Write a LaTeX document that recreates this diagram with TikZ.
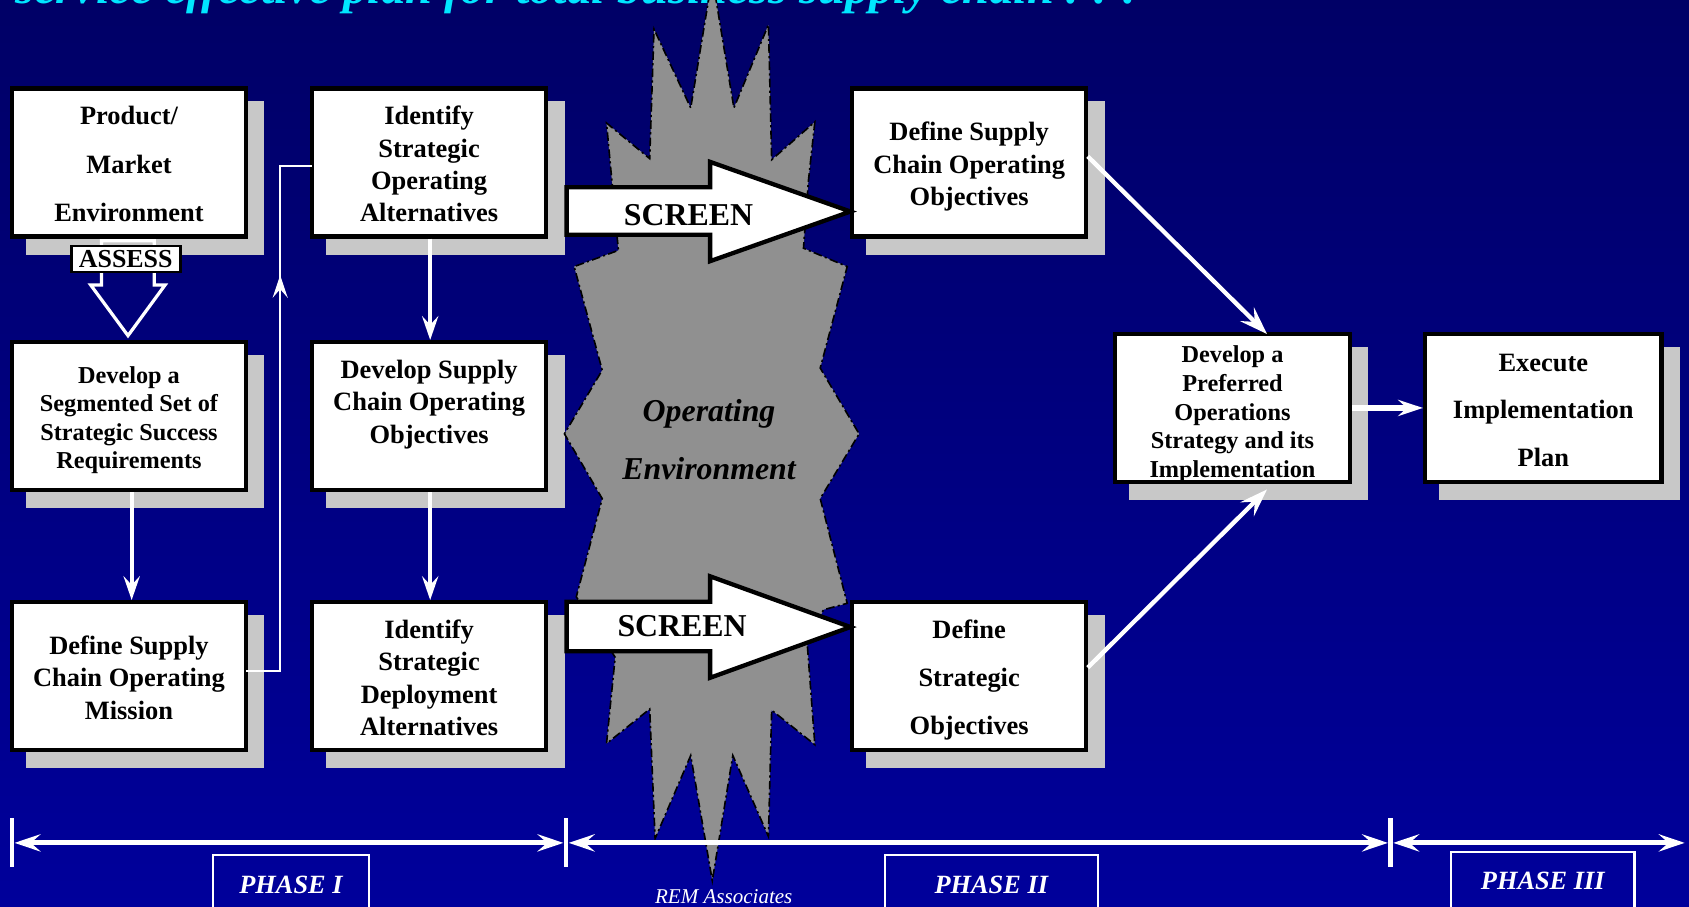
\documentclass[tikz,border=0pt]{standalone}
\usepackage{fontspec}
\setmainfont{Liberation Serif}
\usetikzlibrary{arrows.meta,decorations.markings}
\pgfdeclarelayer{bg}
\pgfdeclarelayer{shade}
\pgfsetlayers{bg,shade,main}
\definecolor{navytop}{RGB}{0,0,102}
\definecolor{navybot}{RGB}{0,0,155}
\definecolor{shadowgray}{RGB}{200,200,200}
\definecolor{burstgray}{RGB}{144,144,144}
\definecolor{titlecyan}{RGB}{0,230,255}
\newcommand{\mytb}[1]{\raisebox{-4pt}[\height][\depth]{\begin{tabular}{@{}c@{}}#1\end{tabular}}}
\newcommand{\plaintb}[1]{\begin{tabular}{@{}c@{}}#1\end{tabular}}
\newcommand{\fbig}{\fontsize{24.5}{30}\selectfont\bfseries}
\newcommand{\fsmall}{\fontsize{22.5}{26.5}\selectfont\bfseries}
\tikzset{
  box/.style={draw=black, line width=4pt, fill=white, minimum width=217pt,
    minimum height=137pt, inner sep=0pt, outer sep=0pt, font=\fbig},
  flow/.style={white, line width=3.5pt, shorten <=2pt, shorten >=2pt,
    -{Stealth[length=22pt,width=15pt,inset=8pt]}},
  diag/.style={white, line width=4pt, shorten <=2pt,
    -{Stealth[length=26pt,width=18pt,inset=10pt]}},
  screenarrow/.style={fill=white, draw=black, line width=4pt, line join=miter},
  screentext/.style={font=\fontsize{29.5}{32}\selectfont\bfseries},
  phasebox/.style={draw=white, line width=2pt, text=white, inner sep=0pt,
    font=\fontsize{24.4}{28}\selectfont\bfseries\itshape},
  phasearrow/.style={white, line width=4.5pt, shorten <=2.5pt, shorten >=2.5pt,
    {Stealth[length=24pt,width=16pt,inset=9pt]}-{Stealth[length=24pt,width=16pt,inset=9pt]}},
  tick/.style={white, line width=4pt}
}
\begin{document}
\begin{tikzpicture}[x=1pt,y=-1pt]
\useasboundingbox (0,0) rectangle (1565,839.5);
\begin{pgfonlayer}{bg}
  \shade[top color=navytop, bottom color=navybot] (0,0) rectangle (1565,839.5);
\end{pgfonlayer}

% title (cut off at top, as in the reference)
\node[anchor=base west, text=titlecyan, inner sep=0pt,
  font=\fontsize{45}{50}\selectfont\bfseries\itshape] (title) at (14,3.7)
  {service effective plan for total business supply chain . . .};

% operating environment burst
\draw[fill=burstgray, draw=black, line width=1.5pt, line join=miter,
  dash pattern=on 8pt off 3pt on 2pt off 3pt]
  (660,-21) -- (680,100) -- (712,23) -- (715,148) -- (755,113) -- (749,168)
  -- (744.5,230) -- (785,247) -- (760,341) -- (796,402) -- (760,462)
  -- (785,559) -- (763,565) -- (748,597) -- (755,690) -- (715,658)
  -- (712,775) -- (679,700) -- (660,816) -- (640,700) -- (607,777)
  -- (602,657) -- (562,689) -- (570,609) -- (534,553) -- (558,462)
  -- (523,402) -- (558,343) -- (532,247) -- (573,232) -- (567,168)
  -- (562,114) -- (602,147) -- (606,27) -- (640,100) -- cycle;
\node[font=\fontsize{29.5}{30}\selectfont\bfseries\itshape] (openv) at (657,411.5)
  {\plaintb{Operating\\[24pt]Environment}};

% boxes
\node[box] (pme) at (119.5,150.5) {\mytb{Product/\\[15pt]Market\\[15pt]Environment}};
\node[box] (isoa) at (397.6,150.5) {\mytb{Identify\\Strategic\\Operating\\Alternatives}};
\node[box] (dscoo) at (898,150.5) {\mytb{Define Supply\\Chain Operating\\Objectives}};
\node[box,font=\fsmall] (dss) at (119.5,385.5) {\mytb{Develop a\\Segmented Set of\\Strategic Success\\Requirements}};
\node[box] (dsco) at (397.6,385.5) {\mytb{Develop Supply\\Chain Operating\\Objectives\\~}};
\node[box] (dscm) at (119.5,626.5) {\mytb{Define Supply\\Chain Operating\\Mission}};
\node[box] (isda) at (397.6,626.5) {\mytb{Identify\\Strategic\\Deployment\\Alternatives}};
\node[box] (dso) at (898,626.5) {\mytb{Define\\[14.5pt]Strategic\\[14.5pt]Objectives}};
\node[box,font=\fsmall,minimum width=218pt] (dpos) at (1142,378)
  {\mytb{\rule{0pt}{22.5pt}Develop a\\Preferred\\Operations\\Strategy and its\\Implementation}};
\node[box,minimum width=219pt] (eip) at (1430,378) {\mytb{Execute\\[14pt]Implementation\\[14pt]Plan}};

\begin{pgfonlayer}{shade}
  \foreach \n in {pme,isoa,dscoo,dss,dsco,dscm,isda,dso,dpos,eip}
    \fill[shadowgray] ([shift={(13pt,-12pt)}]\n.north west) rectangle ([shift={(17pt,-17pt)}]\n.south east);
\end{pgfonlayer}

% screen arrows
\draw[screenarrow] (525,173.5) -- (658,173.5) -- (658,150) -- (788,196)
  -- (658,242) -- (658,217.5) -- (525,217.5) -- cycle;
\node[screentext] (scr1) at (638,199.5) {SCREEN};
\draw[screenarrow] (525,557.5) -- (658,557.5) -- (658,534) -- (788,581)
  -- (658,628) -- (658,603.5) -- (525,603.5) -- cycle;
\node[screentext] (scr2) at (632,580) {SCREEN};

% assess arrow
\draw[white, line width=3pt, line join=miter]
  (94,223) -- (94,264) -- (84,264) -- (118.6,311) -- (153,264) -- (143,264) -- (143,223) -- cycle;
\node[draw=black, line width=2.5pt, fill=white, inner sep=0pt,
  minimum width=101pt, minimum height=24pt,
  font=\fontsize{24}{25}\selectfont\bfseries] (assess) at (116.5,240) {ASSESS};

% flow arrows
\draw[flow] ([xshift=2.5pt]dss.south) -- ([xshift=2.5pt]dscm.north);
\draw[flow] ([xshift=1pt]isoa.south) -- ([xshift=1pt]dsco.north);
\draw[flow] ([xshift=1pt]dsco.south) -- ([xshift=1pt]isda.north);
\draw[white, line width=2pt, postaction={decorate},
  decoration={markings, mark=at position 0.7526 with {\arrow{Stealth[length=21pt,width=14pt,inset=8pt]}}}]
  ([yshift=5pt]dscm.east) -| ([xshift=-29.5pt,yshift=-3pt]isoa.west) -- ([yshift=-3pt]isoa.west);
\draw[diag] ([yshift=7pt]dscoo.east) -- ([xshift=32pt]dpos.north);
\draw[diag] ([yshift=6.5pt]dso.east) -- ([xshift=32pt,yshift=-7pt]dpos.south);
\draw[white, line width=5pt, shorten <=2pt, shorten >=2pt,
  -{Stealth[length=23pt,width=15pt,inset=8pt]}] (dpos.east) -- (eip.west);

% phase line
\coordinate (t1) at (11,781);
\coordinate (t2) at (524.5,781);
\coordinate (t3) at (1288.5,781);
\coordinate (t4) at (1563.5,781);
\foreach \t in {t1,t2,t3}
  \draw[tick] ([yshift=23pt]\t) -- ([yshift=-22pt]\t);
\draw[phasearrow] (t1) -- (t2);
\draw[phasearrow] (t2) -- (t3);
\draw[phasearrow] (t3) -- (t4);
\node[phasebox, minimum width=144pt, minimum height=55pt] (ph1) at (269.6,820) {PHASE I};
\node[phasebox, minimum width=197pt, minimum height=55pt] (ph2) at (918.5,820) {PHASE II};
\node[phasebox, minimum width=170pt, minimum height=54pt] (ph3) at (1429.5,816.3) {PHASE III};
\node[anchor=base, text=white, inner sep=0pt,
  font=\fontsize{19.5}{22}\selectfont\itshape] (rem) at (670.6,837) {REM Associates};
\end{tikzpicture}
\end{document}
